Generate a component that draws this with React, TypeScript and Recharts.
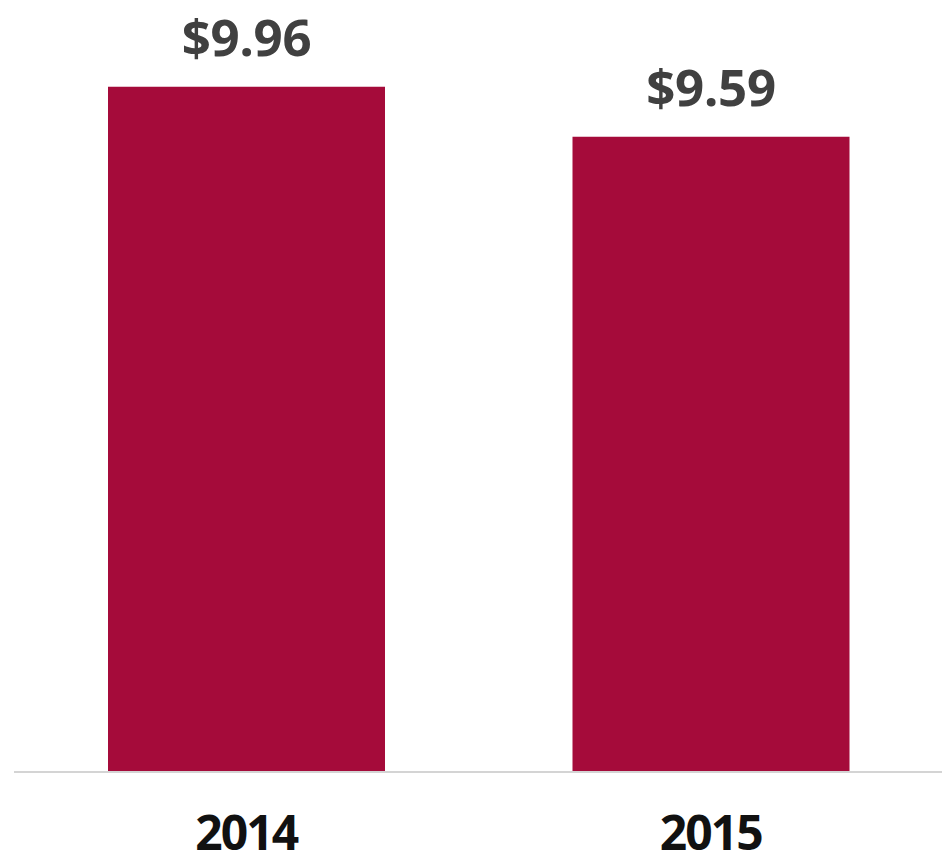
import { Bar, BarChart, LabelList, XAxis, YAxis } from 'recharts';

const years = ['2014', '2015'];
const prices = [9.96, 9.59];

const BAR_COLOR = '#a50b3a';
const VALUE_COLOR = '#404040';
const FONT = '"Noto Sans", "Open Sans", sans-serif';

const data = years.map((year, i) => ({ year, price: prices[i] }));

function YearTick(props: any) {
  const { x, y, payload } = props;
  return (
    <text
      x={x}
      y={y}
      dy={70}
      textAnchor="middle"
      fontFamily={FONT}
      fontWeight={700}
      fontSize={48}
      letterSpacing={-2}
      fill="#111111"
    >
      {payload.value}
    </text>
  );
}

export default function App() {
  return (
    <div style={{ position: 'absolute', left: 0, top: 0 }}>
      <BarChart
        width={942}
        height={863}
        data={data}
        margin={{ top: 0, right: -1, bottom: 0, left: 14 }}
      >
        <YAxis hide domain={[4.9, 10.6]} allowDataOverflow />
        <XAxis
          dataKey="year"
          height={91}
          tickLine={false}
          axisLine={{ stroke: '#d4d4d4', strokeWidth: 2 }}
          tick={<YearTick />}
          interval={0}
        />
        <Bar dataKey="price" fill={BAR_COLOR} barSize={277} isAnimationActive={false}>
          <LabelList
            dataKey="price"
            position="top"
            offset={31}
            formatter={(v: any) => `$${Number(v).toFixed(2)}`}
            style={{
              fontFamily: FONT,
              fontWeight: 700,
              fontSize: 51,
              letterSpacing: -0.3,
              fill: VALUE_COLOR,
            }}
          />
        </Bar>
      </BarChart>
    </div>
  );
}
